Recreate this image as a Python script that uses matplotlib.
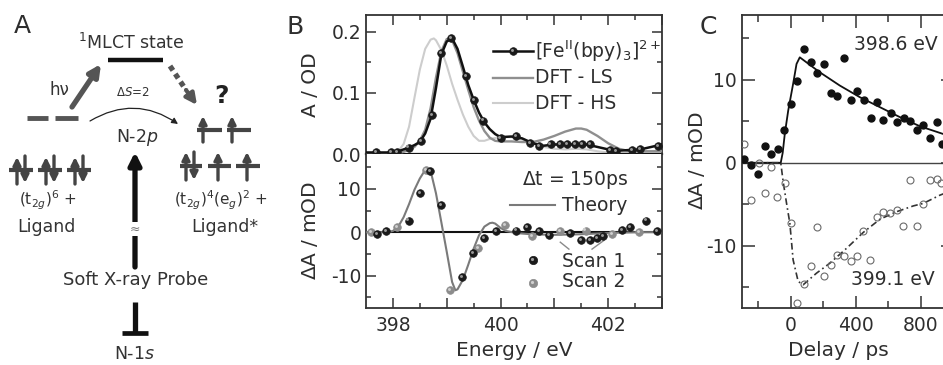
import matplotlib
matplotlib.use('Agg')
import matplotlib.pyplot as plt
from matplotlib.ticker import MultipleLocator, FixedLocator, FuncFormatter
from matplotlib.transforms import offset_copy

plt.rcParams['font.family'] = ['DejaVu Sans']
plt.rcParams['mathtext.fontset'] = 'dejavusans'
plt.rcParams['axes.unicode_minus'] = False

# ---------------- data: panel B (top, static spectra) ----------------
exp_line_E = [397.5, 397.7, 397.9, 398.1, 398.2, 398.3, 398.4, 398.5, 398.6, 398.7, 398.8,
              398.9, 399.0, 399.1, 399.2, 399.3, 399.4, 399.5, 399.6, 399.7, 399.8, 399.9,
              400.0, 400.2, 400.4, 400.6, 400.8, 401.0, 401.2, 401.4, 401.6, 401.8, 402.0,
              402.2, 402.4, 402.6, 402.8, 403.0]
exp_line_A = [0.003, 0.003, 0.003, 0.005, 0.008, 0.011, 0.015, 0.020, 0.034, 0.058, 0.108,
              0.163, 0.184, 0.189, 0.172, 0.143, 0.113, 0.089, 0.068, 0.052, 0.041, 0.033,
              0.028, 0.029, 0.026, 0.018, 0.014, 0.016, 0.016, 0.016, 0.016, 0.012, 0.008,
              0.006, 0.007, 0.008, 0.012, 0.016]
exp_pts_E = [397.68, 397.97, 398.08, 398.29, 398.53, 398.72, 398.90, 399.08, 399.36, 399.51,
             399.68, 400.00, 400.28, 400.55, 400.71, 400.93, 401.11, 401.24, 401.38, 401.52,
             401.66, 402.04, 402.14, 402.45, 402.60, 402.92]
exp_pts_A = [0.003, 0.003, 0.003, 0.011, 0.022, 0.064, 0.165, 0.189, 0.128, 0.088,
             0.055, 0.027, 0.030, 0.019, 0.014, 0.016, 0.016, 0.016, 0.016, 0.016,
             0.016, 0.007, 0.006, 0.007, 0.008, 0.014]
ls_E = [397.5, 398.0, 398.2, 398.4, 398.5, 398.6, 398.7, 398.8, 398.9, 399.0, 399.1, 399.2,
        399.3, 399.4, 399.5, 399.6, 399.7, 399.8, 399.9, 400.0, 400.2, 400.4, 400.6, 400.8,
        401.0, 401.2, 401.4, 401.5, 401.6, 401.8, 402.0, 402.2, 402.4, 402.6, 403.0]
ls_A = [0.0, 0.0, 0.004, 0.012, 0.022, 0.040, 0.075, 0.125, 0.168, 0.188, 0.186, 0.165,
        0.135, 0.105, 0.077, 0.055, 0.038, 0.027, 0.022, 0.021, 0.021, 0.020, 0.020, 0.024,
        0.030, 0.037, 0.042, 0.042, 0.040, 0.030, 0.018, 0.009, 0.005, 0.005, 0.005]
hs_E = [397.5, 397.9, 398.1, 398.2, 398.3, 398.4, 398.5, 398.6, 398.7, 398.76, 398.8, 398.9,
        399.0, 399.1, 399.2, 399.3, 399.4, 399.5, 399.6, 399.7, 399.8, 400.0, 400.2, 400.4,
        400.6, 400.8, 401.0, 401.2, 401.4, 401.6, 401.8, 402.0, 402.4, 403.0]
hs_A = [0.0, 0.0, 0.005, 0.017, 0.045, 0.092, 0.138, 0.172, 0.187, 0.189, 0.186, 0.170,
        0.145, 0.115, 0.089, 0.065, 0.045, 0.030, 0.022, 0.022, 0.025, 0.028, 0.028, 0.024,
        0.018, 0.012, 0.009, 0.008, 0.009, 0.008, 0.005, 0.003, 0.002, 0.002]

# ---------------- data: panel B (bottom, transient) ----------------
th_E = [397.5, 397.9, 398.0, 398.1, 398.2, 398.3, 398.4, 398.5, 398.6, 398.65, 398.7, 398.8,
        398.9, 399.0, 399.1, 399.16, 399.2, 399.3, 399.4, 399.5, 399.6, 399.7, 399.8, 399.85,
        399.9, 400.0, 400.1, 400.3, 400.6, 401.0, 401.4, 401.8, 402.2, 402.6, 403.0]
th_dA = [0.0, 0.0, 0.3, 1.3, 3.5, 6.5, 9.8, 12.4, 14.4, 14.7, 14.2, 9.0,
         2.3, -4.5, -11.5, -13.4, -13.2, -11.0, -7.5, -3.8, -0.7, 1.3, 2.1, 2.2,
         2.0, 1.0, 0.3, -0.2, -0.5, -0.6, -0.5, -0.3, -0.1, 0.0, 0.0]
scan1_E = [397.70, 397.88, 398.29, 398.50, 398.69, 398.89, 399.29, 399.49, 399.69, 399.91,
           400.29, 400.50, 400.71, 400.90, 401.29, 401.50, 401.66, 401.80, 401.91, 402.26,
           402.41, 402.71, 402.91]
scan1_dA = [-0.4, 0.2, 2.7, 9.1, 14.2, 6.3, -10.4, -4.8, -1.3, 0.2,
            0.4, 1.2, 0.3, -0.6, -0.1, -1.9, -1.9, -1.3, -0.8, 0.6,
            1.2, 2.7, 0.2]
scan2_E = [397.59, 398.08, 398.61, 399.07, 399.58, 400.09, 400.59, 401.10, 401.58, 402.07, 402.57]
scan2_dA = [0.0, 1.2, 14.3, -13.3, -3.6, 1.6, -0.8, 0.2, 0.4, -0.4, 0.0]

# ---------------- data: panel C (kinetics) ----------------
t_398 = [-286, -240, -199, -158, -119, -78, -37, 0, 41, 86, 123, 164, 207, 246, 287, 328,
         369, 410, 451, 492, 533, 570, 615, 652, 695, 734, 775, 816, 857, 898, 933]
dA_398 = [0.4, -0.3, -1.4, 2.0, 1.0, 1.6, 3.9, 7.1, 9.9, 13.7, 12.1, 10.8, 11.9, 8.4, 8.0, 12.6,
          7.5, 8.6, 7.6, 5.4, 7.3, 5.1, 6.0, 4.9, 5.4, 5.0, 3.9, 4.6, 3.0, 4.9, 2.3]
t_399 = [-286, -240, -192, -158, -119, -80, -33, 4, 42, 83, 123, 162, 205, 246, 287, 328,
         369, 410, 447, 490, 529, 570, 611, 652, 693, 734, 775, 814, 857, 898, 924]
dA_399 = [2.3, -4.5, 0.0, -3.6, -0.5, -4.1, -2.4, -7.3, -16.9, -14.6, -12.4, -7.8, -13.7, -12.3, -11.1, -11.2,
          -11.8, -11.2, -8.2, -11.7, -6.5, -5.9, -6.1, -5.7, -7.6, -2.1, -7.6, -5.0, -2.1, -1.9, -2.5]
fit398_t = [-300, -60, -48, -35, -14, 16, 37, 57, 98, 180, 303, 426, 549, 672, 795, 933, 1000]
fit398_y = [0.0, 0.0, 1.2, 3.5, 6.3, 9.5, 11.9, 12.7, 12.1, 10.9, 9.3, 7.9, 6.7, 5.5, 4.4, 3.5, 3.1]
fit399_t = [-300, -60, -45, -25, -4, 16, 47, 78, 160, 242, 345, 447, 550, 652, 755, 816, 919, 1000]
fit399_y = [0.0, 0.0, -2.3, -4.8, -7.3, -11.7, -14.3, -14.7, -13.3, -12.1, -10.3, -8.4, -6.8, -5.9,
            -5.2, -4.9, -3.9, -3.3]

# ---------------- figure ----------------
W, H = 943, 365
fig = plt.figure(figsize=(W / 100, H / 100), dpi=100)
TC = '#2e2e2e'
SPC = '#333333'


def fx(px):
    return px / W


def fy(py):
    return 1 - py / H


axA = fig.add_axes([0, 0, 1, 1], zorder=-1)
axA.set_xlim(0, W)
axA.set_ylim(H, 0)
axA.axis('off')

axT = fig.add_axes([fx(366), fy(154.3), (662 - 366) / W, (154.3 - 15) / H])
axB = fig.add_axes([fx(366), fy(308), (662 - 366) / W, (308 - 154.3) / H])
axC = fig.add_axes([fx(741.7), fy(308), (953.2 - 741.7) / W, (308 - 15) / H])


def balls(ax, x, y, face, hi, ms, z, transform=None):
    tr = ax.transData if transform is None else transform
    ax.plot(x, y, 'o', ms=ms, mfc=face, mec=face, mew=0.5, ls='none', zorder=z,
            transform=tr, clip_on=False)
    tr2 = offset_copy(tr, fig=fig, x=-0.8, y=0.8, units='points')
    ax.plot(x, y, 'o', ms=ms * 0.38, mfc=hi, mec='none', ls='none', zorder=z + 0.1,
            transform=tr2, clip_on=False)


def style(ax):
    for s in ax.spines.values():
        s.set_color(SPC)
        s.set_linewidth(1.3)
    ax.tick_params(which='both', direction='in', colors=SPC, labelcolor=TC,
                   labelsize=13.5, width=1.1)
    ax.tick_params(which='major', length=7)
    ax.tick_params(which='minor', length=3.5)


# ---- panel B top ----
axT.plot(hs_E, hs_A, color='#cdcdcd', lw=1.5, zorder=2)
axT.plot(ls_E, ls_A, color='#8f8f8f', lw=1.7, zorder=3)
axT.plot(exp_line_E, exp_line_A, color='#111111', lw=1.8, zorder=4)
balls(axT, exp_pts_E, exp_pts_A, '#1a1a1a', '#9a9a9a', 5.5, 5)
axT.set_xlim(397.5, 403.0)
axT.set_ylim(0.0, 0.2272)
style(axT)
axT.xaxis.set_major_locator(FixedLocator([398, 399, 400, 401, 402, 403]))
axT.xaxis.set_minor_locator(FixedLocator([398.5, 399.5, 400.5, 401.5, 402.5]))
axT.yaxis.set_major_locator(MultipleLocator(0.1))
axT.yaxis.set_minor_locator(MultipleLocator(0.05))
axT.yaxis.set_major_formatter(FuncFormatter(lambda v, p: '%.1f' % v))
axT.tick_params(which='both', top=True, right=True, bottom=False, labelbottom=False)
axT.spines['bottom'].set_color('#111111')
axT.spines['bottom'].set_linewidth(1.6)

lt = axT.transAxes
axT.plot([0.429, 0.564], [0.742, 0.742], color='#111111', lw=1.8, transform=lt, clip_on=False)
balls(axT, [0.4965], [0.742], '#1a1a1a', '#9a9a9a', 5.5, 6, transform=lt)
axT.plot([0.429, 0.564], [0.548, 0.548], color='#8f8f8f', lw=1.7, transform=lt)
axT.plot([0.429, 0.564], [0.368, 0.368], color='#cdcdcd', lw=1.5, transform=lt)
axT.text(0.571, 0.742, r'[Fe$^{\mathrm{II}}$(bpy)$_3$]$^{2+}$', transform=lt, fontsize=13.5,
         color=TC, ha='left', va='center')
axT.text(0.571, 0.548, 'DFT - LS', transform=lt, fontsize=13.5, color=TC, ha='left', va='center')
axT.text(0.571, 0.368, 'DFT - HS', transform=lt, fontsize=13.5, color=TC, ha='left', va='center')

# ---- panel B bottom ----
axB.axhline(0, color='#111111', lw=1.5, zorder=2)
axB.plot(th_E, th_dA, color='#7a7a7a', lw=1.5, zorder=3)
balls(axB, scan2_E, scan2_dA, '#8c8c8c', '#d0d0d0', 5.5, 4)
balls(axB, scan1_E, scan1_dA, '#1a1a1a', '#9a9a9a', 5.5, 5)
axB.plot([401.11, 401.27], [-2.3, -3.9], color='#8a8a8a', lw=1.0)
axB.plot([401.92, 401.70], [-1.9, -3.9], color='#8a8a8a', lw=1.0)
axB.set_xlim(397.5, 403.0)
axB.set_ylim(-17.5, 18.0)
style(axB)
axB.xaxis.set_major_locator(FixedLocator([398, 399, 400, 401, 402, 403]))
axB.xaxis.set_minor_locator(FixedLocator([398.5, 399.5, 400.5, 401.5, 402.5]))
axB.xaxis.set_major_formatter(FuncFormatter(lambda v, p: '%d' % v if int(round(v)) % 2 == 0 else ''))
axB.yaxis.set_major_locator(MultipleLocator(10))
axB.yaxis.set_minor_locator(MultipleLocator(5))
axB.yaxis.set_major_formatter(FuncFormatter(lambda v, p: '%d' % v))
axB.tick_params(which='both', top=False, right=True)
axB.spines['top'].set_visible(False)
axB.tick_params(axis='x', pad=6)

lb = axB.transAxes
axB.text(0.527, 0.833, r'$\Delta$t = 150ps', transform=lb, fontsize=13.5, color=TC,
         ha='left', va='center')
axB.plot([0.486, 0.639], [0.670, 0.670], color='#7a7a7a', lw=1.5, transform=lb)
axB.text(0.662, 0.670, 'Theory', transform=lb, fontsize=13.5, color=TC, ha='left', va='center')
balls(axB, [0.564], [0.312], '#1a1a1a', '#9a9a9a', 6, 6, transform=lb)
balls(axB, [0.564], [0.163], '#8c8c8c', '#d0d0d0', 6, 6, transform=lb)
axB.text(0.662, 0.305, 'Scan 1', transform=lb, fontsize=13.5, color=TC, ha='left', va='center')
axB.text(0.662, 0.17, 'Scan 2', transform=lb, fontsize=13.5, color=TC, ha='left', va='center')

# ---- panel C ----
axC.axhline(0, color='#444444', lw=1.0, zorder=1)
axC.plot(fit398_t, fit398_y, color='#111111', lw=1.3, zorder=3)
axC.plot(fit399_t, fit399_y, color='#333333', lw=1.2, ls=(0, (4, 2, 1, 2)), zorder=3)
axC.plot(t_398, dA_398, 'o', ms=5, mfc='#111111', mec='#111111', ls='none', zorder=4)
axC.plot(t_399, dA_399, 'o', ms=5, mfc='none', mec='#6a6a6a', mew=0.8, ls='none', zorder=4)
axC.set_xlim(-300, 1000)
axC.set_ylim(-17.5, 17.8)
style(axC)
axC.xaxis.set_major_locator(MultipleLocator(400))
axC.xaxis.set_minor_locator(MultipleLocator(200))
axC.yaxis.set_major_locator(MultipleLocator(10))
axC.yaxis.set_minor_locator(MultipleLocator(5))
axC.yaxis.set_major_formatter(FuncFormatter(lambda v, p: '%d' % v))
axC.tick_params(which='major', length=9)
axC.tick_params(which='minor', length=5)
axC.tick_params(which='both', top=True, right=True)
axC.tick_params(axis='x', pad=6)
axC.text(0.73, 0.898, '398.6 eV', transform=axC.transAxes, fontsize=13.5, color=TC,
         ha='center', va='center')
axC.text(0.715, 0.096, '399.1 eV', transform=axC.transAxes, fontsize=13.5, color=TC,
         ha='center', va='center')

# ---- axis labels & panel letters ----
axA.text(310, 85, 'A / OD', rotation=90, fontsize=14.5, color=TC, ha='center', va='center')
axA.text(310, 231, r'$\Delta$A / mOD', rotation=90, fontsize=14.5, color=TC, ha='center', va='center')
axA.text(514, 351, 'Energy / eV', fontsize=14.5, color=TC, ha='center', va='center')
axA.text(838, 351, 'Delay / ps', fontsize=14.5, color=TC, ha='center', va='center')
axA.text(697, 161, r'$\Delta$A / mOD', rotation=90, fontsize=14.5, color=TC, ha='center', va='center')
axA.text(22, 26, 'A', fontsize=18, color=TC, ha='center', va='center')
axA.text(295, 27, 'B', fontsize=18, color=TC, ha='center', va='center')
axA.text(708, 27, 'C', fontsize=18, color=TC, ha='center', va='center')

# ---- panel A: level diagram ----
AC = '#333333'
axA.text(131, 43, r'$^{1}$MLCT state', fontsize=12.5, color=AC, ha='center', va='center')
axA.plot([108, 163], [60, 60], color='#111111', lw=3.2, solid_capstyle='butt')
axA.text(59, 90, 'hν', fontsize=12, color=AC, ha='center', va='center')
axA.annotate('', xy=(101, 64), xytext=(72, 107),
             arrowprops=dict(arrowstyle='-|>', lw=3.8, color='#555555', mutation_scale=17,
                             shrinkA=0, shrinkB=0))
axA.plot([170, 186], [66, 90], color='#555555', lw=3.8, ls=(0, (1, 0.8)), solid_capstyle='butt')
axA.annotate('', xy=(197, 105), xytext=(186, 90),
             arrowprops=dict(arrowstyle='-|>', lw=3.0, color='#555555', mutation_scale=16,
                             shrinkA=0, shrinkB=0))
axA.text(221, 96, '?', fontsize=18, fontweight='bold', color='#222222', ha='center', va='center')
axA.text(133, 92, r'$\Delta S$=2', fontsize=8.5, color=AC, ha='center', va='center')
axA.annotate('', xy=(178, 124), xytext=(90, 121),
             arrowprops=dict(arrowstyle='-|>', lw=0.9, color='#222222', mutation_scale=9,
                             shrinkA=0, shrinkB=0, connectionstyle='arc3,rad=-0.32'))
axA.plot([27, 48], [118, 118], color='#555555', lw=3.5, solid_capstyle='butt')
axA.plot([55, 78], [118, 118], color='#555555', lw=3.5, solid_capstyle='butt')
axA.text(137, 137, r'N-$2p$', fontsize=12.5, color=AC, ha='center', va='center')

# probe arrow
axA.annotate('', xy=(135, 152), xytext=(135, 267),
             arrowprops=dict(arrowstyle='-|>', lw=3.8, color='#111111', mutation_scale=18,
                             shrinkA=0, shrinkB=0))
axA.text(135, 229, '≈', fontsize=9, color='#777777', ha='center', va='center',
         bbox=dict(facecolor='white', edgecolor='none', pad=0.2))
axA.text(136, 280, 'Soft X-ray Probe', fontsize=13, color=AC, ha='center', va='center')
axA.plot([135, 135], [302, 333], color='#111111', lw=3.8, solid_capstyle='butt')
axA.plot([122, 148], [333, 333], color='#111111', lw=3.4, solid_capstyle='butt')
axA.text(135, 354, r'N-$1s$', fontsize=12.5, color=AC, ha='center', va='center')

SC = '#444444'


def spin(x, y0, y1, up=True):
    if up:
        axA.annotate('', xy=(x, y0), xytext=(x, y1),
                     arrowprops=dict(arrowstyle='-|>', lw=2.4, color=SC, mutation_scale=11,
                                     shrinkA=0, shrinkB=0))
    else:
        axA.annotate('', xy=(x, y1), xytext=(x, y0),
                     arrowprops=dict(arrowstyle='-|>', lw=2.4, color=SC, mutation_scale=11,
                                     shrinkA=0, shrinkB=0))


# left: (t2g)^6
for cx in [21, 50, 79]:
    axA.plot([cx - 12, cx + 12], [170, 170], color=SC, lw=3.0, solid_capstyle='butt')
    spin(cx - 4, 157, 184, up=True)
    spin(cx + 4, 156, 183, up=False)
axA.text(48, 200, r'(t$_{2g}$)$^6$ +', fontsize=11, color=AC, ha='center', va='center')
axA.text(46, 227, 'Ligand', fontsize=12.5, color=AC, ha='center', va='center')

# right: (t2g)^4 (eg)^2
for x0, x1 in [(197, 222), (227, 251)]:
    axA.plot([x0, x1], [130, 130], color=SC, lw=3.0, solid_capstyle='butt')
spin(203, 116, 142, up=True)
spin(232, 116, 142, up=True)
for x0, x1 in [(180, 202), (208, 231), (236, 260)]:
    axA.plot([x0, x1], [166, 166], color=SC, lw=3.0, solid_capstyle='butt')
spin(186, 152, 180, up=True)
spin(194, 152, 180, up=False)
spin(218, 152, 180, up=True)
spin(247, 152, 180, up=True)
axA.text(221, 200, r'(t$_{2g}$)$^4$(e$_g$)$^2$ +', fontsize=11, color=AC, ha='center', va='center')
axA.text(225, 227, 'Ligand*', fontsize=12.5, color=AC, ha='center', va='center')

fig.savefig('out.png', dpi=100)
